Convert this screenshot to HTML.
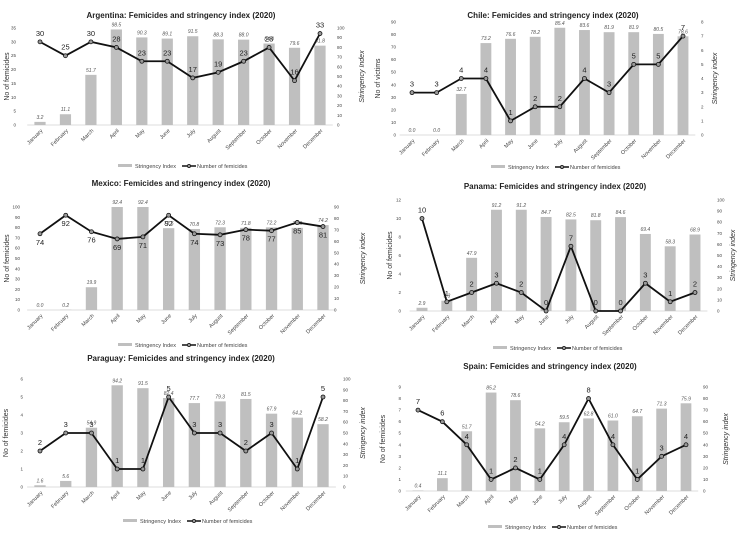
<!DOCTYPE html>
<html><head><meta charset="utf-8"><style>
html,body{margin:0;padding:0;background:#fff;}
svg{display:block;font-family:"Liberation Sans",sans-serif;}
</style></head><body>
<svg id="c" width="741" height="535" viewBox="0 0 741 535" xmlns="http://www.w3.org/2000/svg"></svg>
<script>
const months = ["January","February","March","April","May","June","July","August","September","October","November","December"];
const argBars = [3.2,11.1,51.7,98.5,90.3,89.1,91.5,88.3,88.0,84.0,79.6,81.8];
const argLine = [30,25,30,28,23,23,17,19,23,28,16,33];
const chiBars = [0.0,0.0,32.7,73.2,76.6,78.2,85.4,83.6,81.9,81.9,80.5,78.6];
const chiLine = [3,3,4,4,1,2,2,4,3,5,5,7];
const mexBars = [0.0,0.2,19.9,92.4,92.4,71.5,70.8,72.3,71.8,72.2,71.8,74.2];
const mexLine = [74,92,76,69,71,92,74,73,78,77,85,81];
const panBars = [2.9,9.3,47.9,91.2,91.2,84.7,82.5,81.8,84.6,69.4,58.3,68.9];
const panLine = [10,1,2,3,2,0,7,0,0,3,1,2];
const parBars = [1.6,5.6,54.9,94.2,91.5,82.4,77.7,79.3,81.5,67.9,64.2,58.2];
const parLine = [2,3,3,1,1,5,3,3,2,3,1,5];
const spaBars = [0.4,11.1,51.7,85.2,78.6,54.2,59.5,62.8,61.0,64.7,71.3,75.9];
const spaLine = [7,6,4,1,2,1,4,8,4,1,3,4];
const leftTicksArg=[0,5,10,15,20,25,30,35], rightTicks100=[0,10,20,30,40,50,60,70,80,90,100];
const chiLeft=[0,10,20,30,40,50,60,70,80,90], chiRight=[0,1,2,3,4,5,6,7,8];
const mexLeft=[0,10,20,30,40,50,60,70,80,90,100], mexRight=[0,10,20,30,40,50,60,70,80,90];
const panLeft=[0,2,4,6,8,10,12], parLeft=[0,1,2,3,4,5,6], spaLeft=[0,1,2,3,4,5,6,7,8,9], spaRight=[0,10,20,30,40,50,60,70,80,90];

const panels = [
 {id:"argentina",title:"Argentina: Femicides and stringency index (2020)",tx:181,ty:18,x0:40,x1:320,y0:125,y1:28,lt:leftTicksArg,rt:rightTicks100,barsLeft:false,bars:argBars,line:argLine,ltx:16,rtx:337,ltitle:"No of femicides",ltx2:9,rtitle:"Stringency Index",rtx2:364,ly:166,lx:180,lab:-6},
 {id:"chile",title:"Chile: Femicides and stringency index (2020)",tx:553,ty:18,x0:412,x1:683,y0:135,y1:22,lt:chiLeft,rt:chiRight,barsLeft:true,bars:chiBars,line:chiLine,ltx:396,rtx:701,ltitle:"No of victims",ltx2:380,rtitle:"Stringency index",rtx2:717,ly:167,lx:553,lab:-6},
 {id:"mexico",title:"Mexico: Femicides and stringency index (2020)",tx:181,ty:186,x0:40,x1:323,y0:310,y1:207,lt:mexLeft,rt:mexRight,barsLeft:false,bars:mexBars,line:mexLine,ltx:20,rtx:334,ltitle:"No of femicides",ltx2:9,rtitle:"Stringency index",rtx2:365,ly:345,lx:180,lab:11},
 {id:"panama",title:"Panama: Femicides and stringency index (2020)",tx:555,ty:189,x0:422,x1:695,y0:311,y1:200,lt:panLeft,rt:rightTicks100,barsLeft:false,bars:panBars,line:panLine,ltx:401,rtx:717,ltitle:"No of femicides",ltx2:392,rtitle:"Stringency index",rtx2:735,ly:348,lx:555,lab:-6},
 {id:"paraguay",title:"Paraguay: Femicides and stringency index (2020)",tx:181,ty:361,x0:40,x1:323,y0:487,y1:379,lt:parLeft,rt:rightTicks100,barsLeft:false,bars:parBars,line:parLine,ltx:23,rtx:343,ltitle:"No of femicides",ltx2:8,rtitle:"Stringency index",rtx2:365,ly:521,lx:185,lab:-6},
 {id:"spain",title:"Spain: Femicides and stringency index (2020)",tx:550,ty:369,x0:418,x1:686,y0:491,y1:387,lt:spaLeft,rt:spaRight,barsLeft:false,bars:spaBars,line:spaLine,ltx:401,rtx:703,ltitle:"No of femicides",ltx2:385,rtitle:"Stringency index",rtx2:728,ly:527,lx:550,lab:-6}
];
const NS="http://www.w3.org/2000/svg", svg=document.getElementById("c");
function mk(tag,attrs,parent,text){const e=document.createElementNS(NS,tag);for(const k in attrs)e.setAttribute(k,attrs[k]);if(text!==undefined)e.textContent=text;(parent||svg).appendChild(e);return e;}
panels.forEach(p=>{
 const g=mk("g",{});
 
 
 const lMax=p.lt[p.lt.length-1], rMax=p.rt[p.rt.length-1];
 const yl=v=>p.y0-(v/lMax)*(p.y0-p.y1), yr=v=>p.y0-(v/rMax)*(p.y0-p.y1);
 const step=(p.x1-p.x0)/11, xs=i=>p.x0+i*step, bw=step*0.44;
 const yb=p.barsLeft?yl:yr, yln=p.barsLeft?yr:yl;
 const t=mk("text",{x:p.tx,y:p.ty,"text-anchor":"middle","font-size":"8","font-weight":"bold",fill:"#222"},g,p.title);
 
 
 mk("line",{x1:p.x0-step/2,x2:p.x1+step/2,y1:p.y0,y2:p.y0,stroke:"#d0d0d0","stroke-width":"0.8"},g);
 p.lt.forEach(v=>{const e=mk("text",{x:p.ltx,y:yl(v)+1.5,"text-anchor":"end","font-size":"4.5",fill:"#444"},g,v);
  
  });
 p.rt.forEach(v=>{const e=mk("text",{x:p.rtx,y:yr(v)+1.5,"text-anchor":"start","font-size":"4.5",fill:"#444"},g,v);
  
  });
 const lyc=(p.y0+p.y1)/2;
 const la=mk("text",{x:p.ltx2,y:lyc,transform:`rotate(-90 ${p.ltx2} ${lyc})`,"text-anchor":"middle","font-size":"7",fill:"#333"},g,p.ltitle);
 
 
 const ra=mk("text",{x:p.rtx2,y:lyc,transform:`rotate(-90 ${p.rtx2} ${lyc})`,"text-anchor":"middle","font-size":"7","font-style":"italic",fill:"#333"},g,p.rtitle);
 
 
 p.bars.forEach((v,i)=>{
  const top=Math.max(yb(v),p.y1);
  const r=mk("rect",{x:xs(i)-bw/2,y:top,width:bw,height:Math.max(0,p.y0-top),fill:"#bfbfbf"},g);
  
  
  const l=mk("text",{x:xs(i),y:top-3,"text-anchor":"middle","font-size":"5","font-style":"italic",fill:"#555"},g,v.toFixed(1));
  
  
 });
 const pts=p.line.map((v,i)=>xs(i)+","+yln(v)).join(" ");
 const pl=mk("polyline",{points:pts,fill:"none",stroke:"#111","stroke-width":"1.8"},g);
 
 
 p.line.forEach((v,i)=>{
  const c=mk("circle",{cx:xs(i),cy:yln(v),r:2,fill:"#999",stroke:"#111","stroke-width":"0.8"},g);
  
  
  const l=mk("text",{x:xs(i),y:yln(v)+p.lab,"text-anchor":"middle","font-size":"7.5",fill:"#222"},g,v);
  
  
 });
 months.forEach((m,i)=>{
  const x=xs(i)+3,y=p.y0+6;
  const e=mk("text",{x:x,y:y,transform:`rotate(-45 ${x} ${y})`,"text-anchor":"end","font-size":"5.5",fill:"#444"},g,m);
  
  
 });
 const lg=mk("g",{},g);
 
 
 mk("rect",{x:p.lx-62,y:p.ly-2,width:14,height:3,fill:"#bfbfbf"},lg);
 mk("text",{x:p.lx-45,y:p.ly+2,"font-size":"5.5",fill:"#444"},lg,"Stringency Index");
 mk("line",{x1:p.lx+2,x2:p.lx+16,y1:p.ly,y2:p.ly,stroke:"#111","stroke-width":"1.5"},lg);
 mk("circle",{cx:p.lx+9,cy:p.ly,r:1.6,fill:"#999",stroke:"#111","stroke-width":"0.7"},lg);
 mk("text",{x:p.lx+17,y:p.ly+2,"font-size":"5.5",fill:"#444"},lg,"Number of femicides");
});
</script>
</body></html>
